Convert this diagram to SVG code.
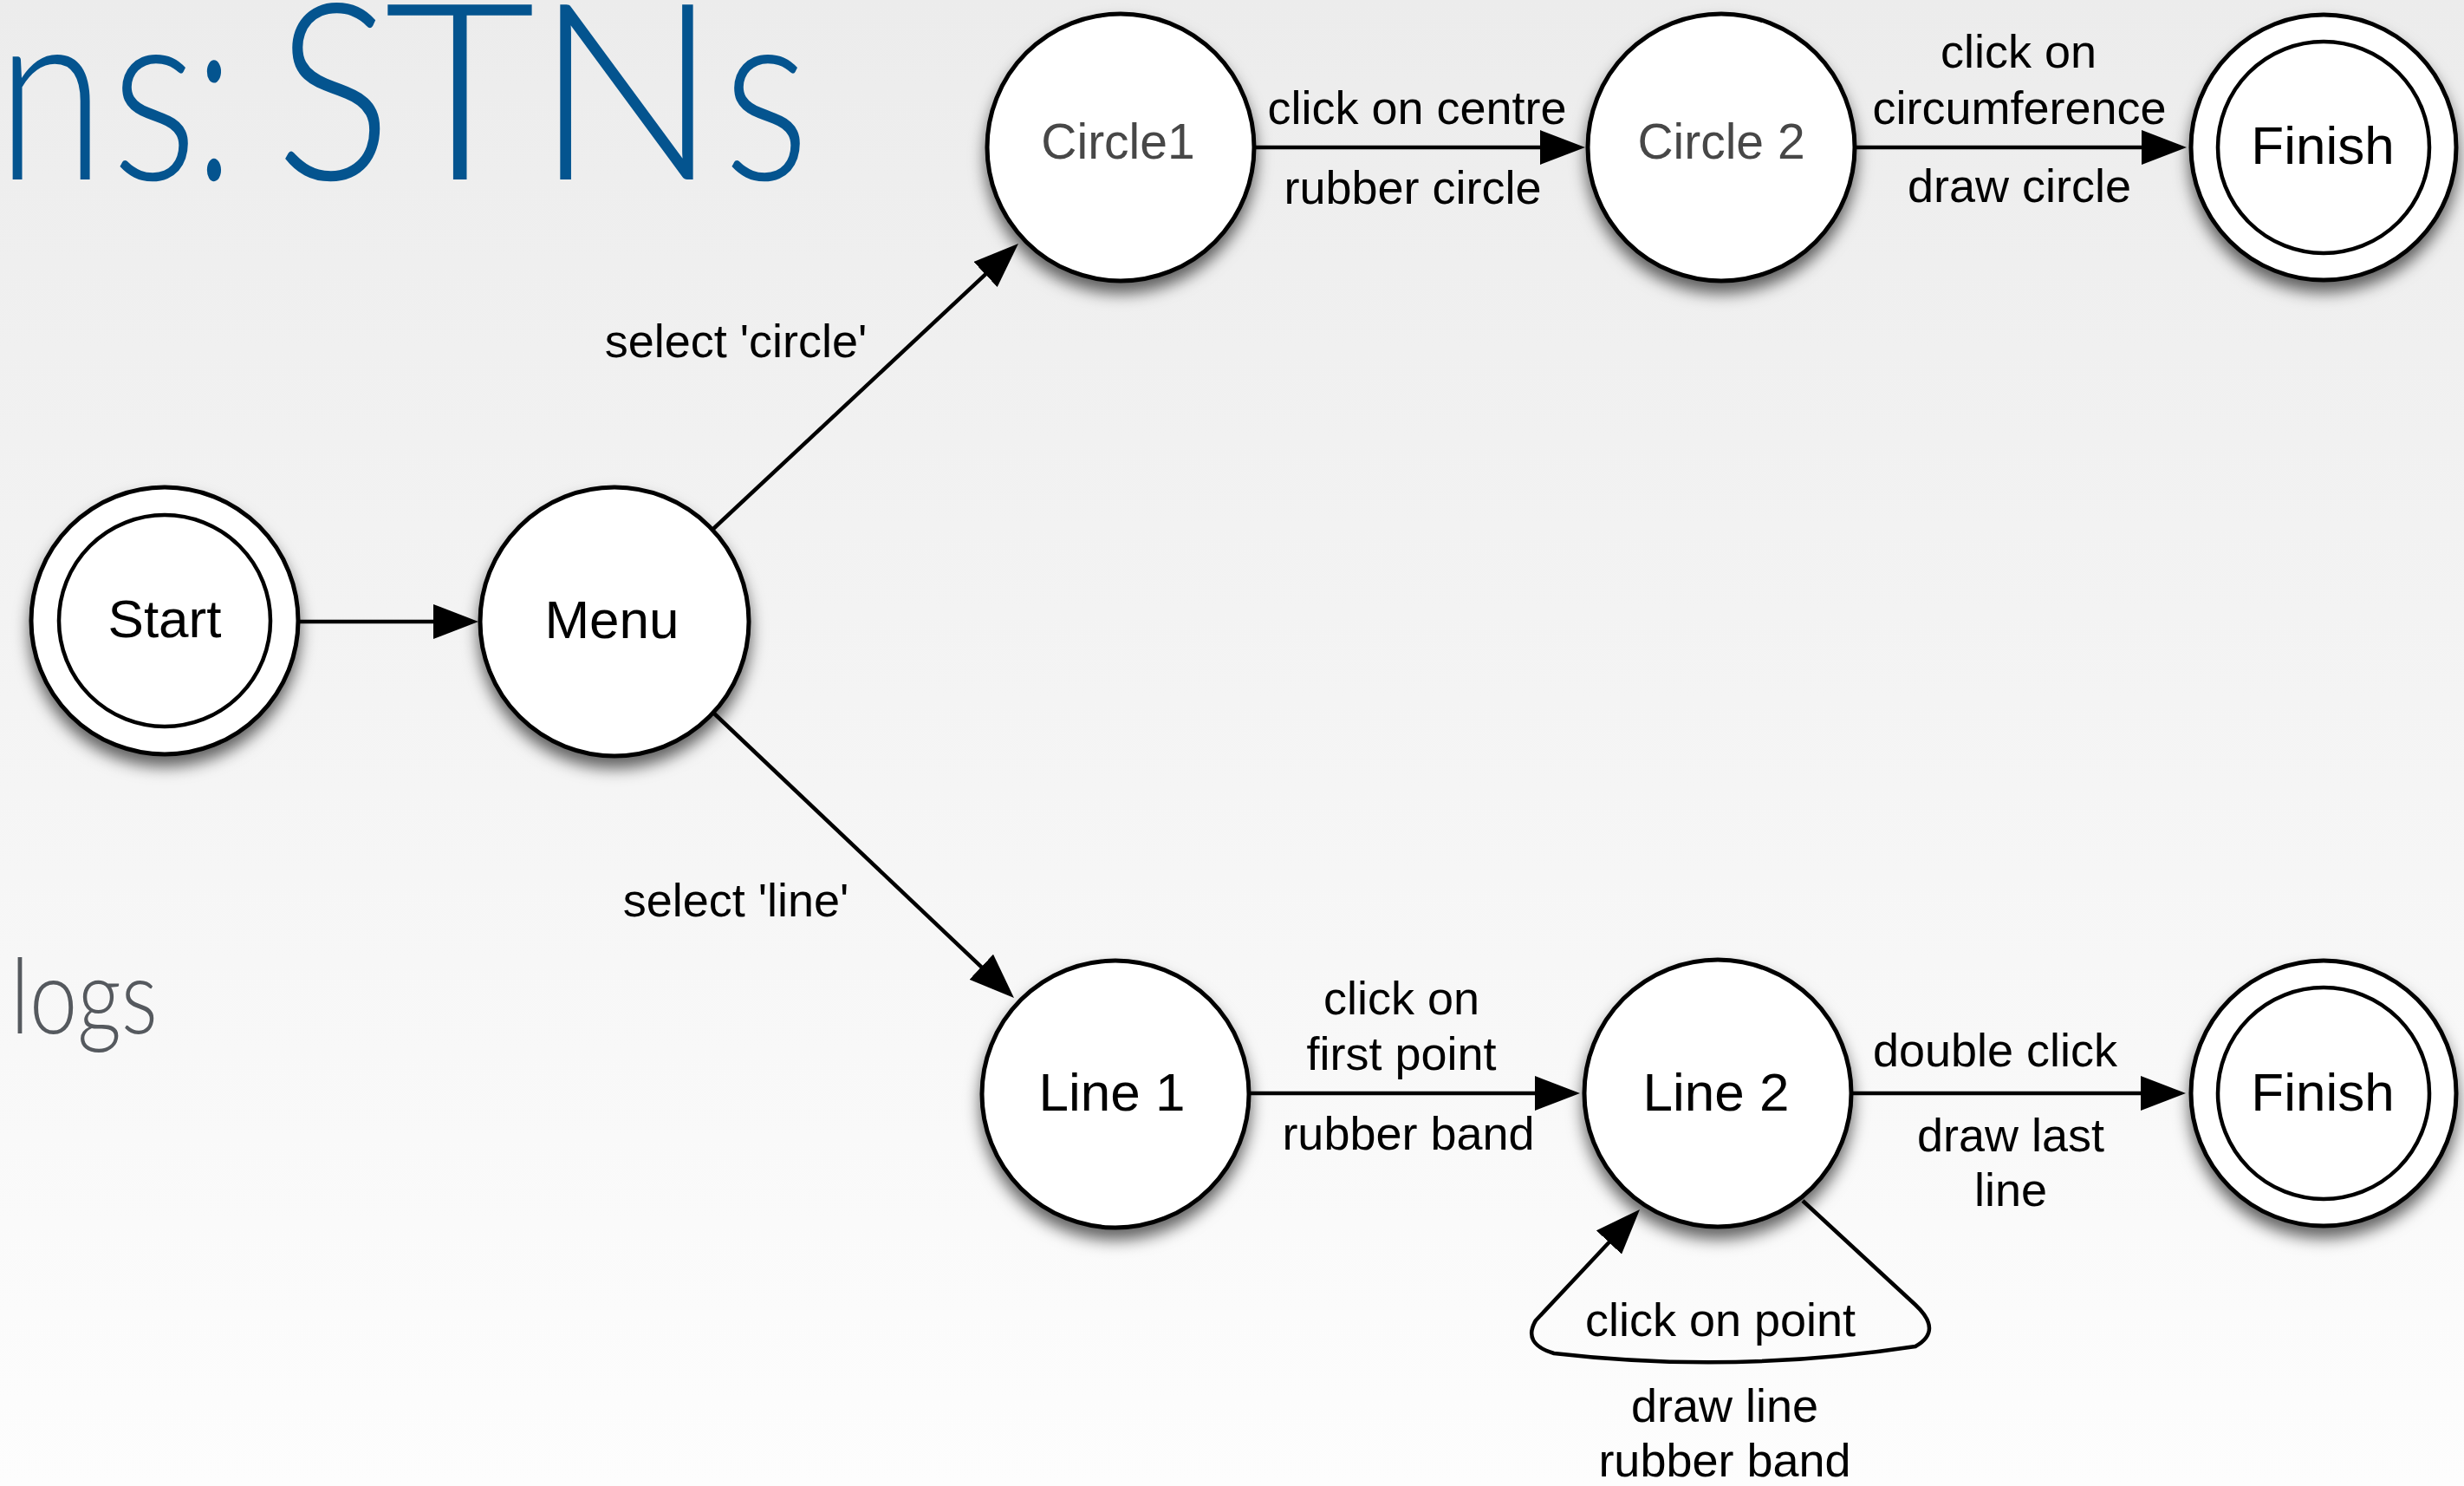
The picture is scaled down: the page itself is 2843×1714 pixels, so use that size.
<svg xmlns="http://www.w3.org/2000/svg" width="2843" height="1714" viewBox="0 0 2843 1714">
<defs>
  <linearGradient id="bg" x1="0" y1="0" x2="0" y2="1">
    <stop offset="0" stop-color="#ececec"/>
    <stop offset="1" stop-color="#fdfdfd"/>
  </linearGradient>
  <filter id="sh" x="-30%" y="-30%" width="160%" height="175%">
    <feDropShadow dx="0" dy="12" stdDeviation="9" flood-color="#000" flood-opacity="0.6"/>
  </filter>
  <marker id="ah" viewBox="0 0 52 40" refX="10" refY="20" markerWidth="52" markerHeight="40" markerUnits="userSpaceOnUse" orient="auto">
    <path d="M0,0 L52,20 L0,40 z" fill="#000"/>
  </marker>
  <style>
    .node{fill:#fff;stroke:#000;stroke-width:5}
    .inner{fill:none;stroke:#000;stroke-width:4.5}
    .nt{font-family:"Liberation Sans",Arial,sans-serif;font-size:62px;fill:#000;text-anchor:middle}
    .nt.g{fill:#474747;font-size:57px}
    .el{font-family:"Liberation Sans",Arial,sans-serif;font-size:54px;fill:#000;text-anchor:middle}
    .edge{fill:none;stroke:#000;stroke-width:4.5;marker-end:url(#ah)}
    .title{font-family:Lato,"Open Sans","Noto Sans",sans-serif;font-weight:300}
  </style>
</defs>
<rect width="2843" height="1714" fill="url(#bg)"/>

<text class="title" y="207" font-size="285" fill="#04548f"><tspan x="-4" textLength="125" lengthAdjust="spacingAndGlyphs">n</tspan><tspan x="128" textLength="100" lengthAdjust="spacingAndGlyphs">s</tspan><tspan x="226" textLength="42" lengthAdjust="spacingAndGlyphs">:</tspan><tspan x="318" textLength="134" lengthAdjust="spacingAndGlyphs">S</tspan><tspan x="443" textLength="175" lengthAdjust="spacingAndGlyphs">T</tspan><tspan x="617" textLength="212" lengthAdjust="spacingAndGlyphs">N</tspan><tspan x="834" textLength="100" lengthAdjust="spacingAndGlyphs">s</tspan></text>
<text class="title" x="12" y="1192" font-size="120" fill="#55595e" textLength="170" lengthAdjust="spacingAndGlyphs">logs</text>

<g id="connectors">
  <line class="edge" x1="345" y1="717" x2="510" y2="717"/>
  <line class="edge" x1="823" y1="610" x2="1144.3" y2="309.7"/>
  <line class="edge" x1="823" y1="822" x2="1139.5" y2="1122.1"/>
  <line class="edge" x1="1447" y1="170" x2="1787" y2="170"/>
  <line class="edge" x1="2140" y1="170" x2="2481" y2="170"/>
  <line class="edge" x1="1442" y1="1261" x2="1781" y2="1261"/>
  <line class="edge" x1="2137" y1="1261" x2="2480" y2="1261"/>
  <path class="edge" d="M2080,1385 L2210,1505 Q2242,1535 2210,1553 Q2000,1585 1793,1561 Q1756,1550 1772,1523 L1863.3,1425.7"/>
  <text class="el" x="849" y="412">select 'circle'</text>
  <text class="el" x="849" y="1057">select 'line'</text>
  <text class="el" x="1635" y="143">click on centre</text>
  <text class="el" x="1630" y="235">rubber circle</text>
  <text class="el" x="2329" y="78">click on</text>
  <text class="el" x="2330" y="143">circumference</text>
  <text class="el" x="2330" y="233">draw circle</text>
  <text class="el" x="1617" y="1170">click on</text>
  <text class="el" x="1617" y="1234">first point</text>
  <text class="el" x="1625" y="1326">rubber band</text>
  <text class="el" x="2302" y="1230">double click</text>
  <text class="el" x="2320" y="1328">draw last</text>
  <text class="el" x="2320" y="1391">line</text>
  <text class="el" x="1985" y="1541">click on point</text>
  <text class="el" x="1990" y="1640">draw line</text>
  <text class="el" x="1990" y="1703">rubber band</text>
</g>

<g id="start">
  <circle class="node" cx="190" cy="716" r="154" filter="url(#sh)"/>
  <circle class="inner" cx="190" cy="716" r="122"/>
  <text class="nt" x="190" y="735">Start</text>
</g>
<g id="menu">
  <circle class="node" cx="709" cy="717" r="155" filter="url(#sh)"/>
  <text class="nt" x="706" y="736">Menu</text>
</g>
<g id="circle1">
  <circle class="node" cx="1293" cy="170" r="154" filter="url(#sh)"/>
  <text class="nt g" x="1290" y="183">Circle1</text>
</g>
<g id="circle2">
  <circle class="node" cx="1986" cy="170" r="154" filter="url(#sh)"/>
  <text class="nt g" x="1986" y="183">Circle 2</text>
</g>
<g id="finish1">
  <circle class="node" cx="2681" cy="170" r="153" filter="url(#sh)"/>
  <circle class="inner" cx="2681" cy="170" r="122"/>
  <text class="nt" x="2680" y="189">Finish</text>
</g>
<g id="line1">
  <circle class="node" cx="1287" cy="1262" r="154" filter="url(#sh)"/>
  <text class="nt" x="1283" y="1281">Line 1</text>
</g>
<g id="line2">
  <circle class="node" cx="1982" cy="1261" r="154" filter="url(#sh)"/>
  <text class="nt" x="1980" y="1281">Line 2</text>
</g>
<g id="finish2">
  <circle class="node" cx="2681" cy="1261" r="153" filter="url(#sh)"/>
  <circle class="inner" cx="2681" cy="1261" r="122"/>
  <text class="nt" x="2680" y="1281">Finish</text>
</g>
</svg>
